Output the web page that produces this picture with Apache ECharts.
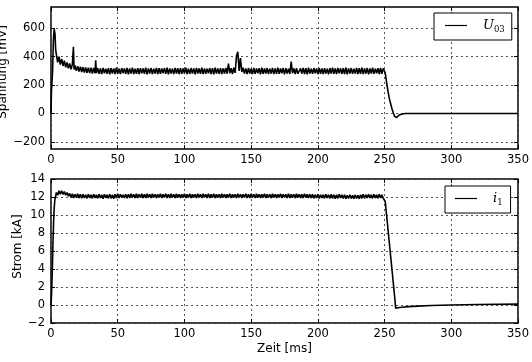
<!DOCTYPE html>
<html>
<head>
<meta charset="utf-8">
<script src="https://cdn.jsdelivr.net/npm/echarts@6/dist/echarts.min.js"></script>
</head>
<body style="margin: 0">
<div id="container" style="width: 532px; height: 362px"></div>
<script type="text/javascript">
// tick labels
var timeTicks = [0, 50, 100, 150, 200, 250, 300, 350];
var uTicks = [-200, 0, 200, 400, 600];
var iTicks = [-2, 0, 2, 4, 6, 8, 10, 12, 14];

// U03 [ms, mV]: switch-on transient
var uStart = [
    [0, 0], [0.3, 150], [0.7, 140], [1.2, 300], [1.8, 520], [2.4, 595], [3.0, 560], [3.5, 450],
    [4, 415], [5, 360], [6, 400], [7, 345], [8, 385], [9, 335], [10, 372], [11, 325], [12, 360],
    [13, 318], [14, 352], [15, 312], [16, 345], [16.8, 470], [17.3, 310], [18, 338], [19, 300],
    [20, 333], [21, 296], [22, 330], [23, 292], [24, 327], [25, 288], [26, 325], [27, 286],
    [28, 323], [29, 284], [30, 322], [31, 282], [32, 320], [33, 283], [33.5, 375], [34, 285],
    [35, 320]
];
// U03 noisy plateau, one sample per ms from 36 ms to 249 ms
var uNoiseStart = 36;
var uNoise = [
    280, 318, 277, 321, 283, 316, 279, 320, 276, 319,
    282, 317, 278, 322, 280, 315, 277, 320, 284, 318,
    279, 321, 276, 317, 281, 323, 278, 316, 280, 320,
    277, 319, 283, 317, 279, 322, 276, 318, 281, 320,
    278, 316, 282, 321, 277, 319, 280, 317, 284, 320,
    279, 322, 276, 318, 281, 316, 278, 321, 282, 319,
    277, 320, 280, 317, 283, 322, 278, 316, 279, 320,
    281, 318, 276, 321, 282, 317, 279, 323, 277, 318,
    280, 316, 283, 320, 278, 319, 276, 322, 281, 317,
    279, 320, 277, 318, 282, 321, 280, 352, 284, 319,
    278, 322, 286, 405, 435, 300, 390, 292, 322, 281,
    317, 278, 320, 282, 316, 277, 321, 280, 318, 283,
    319, 276, 322, 279, 317, 281, 320, 278, 316, 282,
    321, 277, 318, 280, 323, 279, 317, 283, 320, 276,
    319, 281, 316, 278, 365, 284, 318, 277, 320, 280,
    280, 317, 282, 321, 278, 319, 276, 322, 281, 316,
    279, 320, 283, 318, 277, 321, 280, 317, 278, 319,
    282, 316, 276, 320, 281, 322, 279, 318, 277, 321,
    283, 317, 280, 319, 278, 322, 276, 318, 282, 320,
    279, 316, 281, 321, 277, 319, 280, 323, 278, 317,
    282, 320, 276, 318, 281, 322, 279, 316, 283, 319,
    277, 321, 280, 318
];
// U03 switch-off
var uEnd = [
    [250.5, 285], [251.5, 220], [252.5, 160], [253.5, 110], [254.5, 70], [255.5, 35], [256.5, 5],
    [257.5, -20], [258.3, -32], [259, -28], [260, -18], [261, -10], [262, -5], [264, -2], [266, 0],
    [300, 0], [350, 0]
];

// i1 [ms, kA]
var iStart = [
    [0, 0], [0.5, 1.5], [1, 4], [1.5, 7], [2, 9.5], [2.5, 11], [3, 11.8], [3.5, 12.1],
    [4, 12.5], [5, 12.2], [6, 12.7], [7, 12.3], [8, 12.7], [9, 12.3], [10, 12.6], [11, 12.2],
    [12, 12.5], [13, 12.1]
];
var iNoiseStart = 14;
var iNoise = [
    12.4, 11.95, 12.35, 11.9, 12.3, 11.95, 12.35, 11.9, 12.3, 11.85,
    12.3, 11.9, 12.25, 11.85, 12.3, 11.9, 12.25, 11.85, 12.3, 11.9,
    12.25, 11.85, 12.3, 11.9, 12.25, 11.8, 12.3, 11.9, 12.25, 11.85,
    12.3, 11.85, 12.25, 11.8, 12.3, 11.9, 12.35, 11.9, 12.3, 11.95,
    12.25, 11.9, 12.3, 11.85, 12.3, 11.9, 12.35, 11.95, 12.3, 11.9,
    12.35, 11.9, 12.3, 11.95, 12.35, 11.9, 12.3, 11.9, 12.35, 11.95,
    12.3, 11.9, 12.35, 11.95, 12.3, 11.9, 12.3, 11.95, 12.35, 11.9,
    12.3, 11.95, 12.35, 11.9, 12.3, 11.9, 12.35, 11.95, 12.3, 11.9,
    12.35, 11.95, 12.3, 11.9, 12.3, 11.95, 12.35, 11.9, 12.3, 11.95,
    12.35, 11.9, 12.3, 11.95, 12.3, 11.9, 12.35, 11.95, 12.3, 11.9,
    12.35, 11.95, 12.3, 11.9, 12.35, 11.9, 12.3, 11.95, 12.35, 11.9,
    12.3, 11.95, 12.3, 11.9, 12.35, 11.95, 12.3, 11.9, 12.3, 11.95,
    12.35, 11.9, 12.3, 11.95, 12.3, 11.9, 12.35, 11.95, 12.3, 11.9,
    12.3, 11.95, 12.35, 11.9, 12.3, 11.9, 12.35, 11.95, 12.3, 11.9,
    12.35, 11.95, 12.3, 11.9, 12.3, 11.95, 12.35, 11.9, 12.3, 11.95,
    12.3, 11.9, 12.35, 11.95, 12.3, 11.9, 12.3, 11.95, 12.35, 11.9,
    12.3, 11.95, 12.3, 11.9, 12.35, 11.9, 12.3, 11.95, 12.3, 11.9,
    12.35, 11.95, 12.3, 11.9, 12.3, 11.9, 12.35, 11.95, 12.3, 11.9,
    12.3, 11.9, 12.3, 11.85, 12.25, 11.9, 12.3, 11.85, 12.25, 11.9,
    12.25, 11.85, 12.3, 11.9, 12.25, 11.85, 12.3, 11.85, 12.25, 11.8,
    12.25, 11.85, 12.3, 11.9, 12.25, 11.85, 12.25, 11.8, 12.2, 11.85,
    12.25, 11.85, 12.2, 11.8, 12.25, 11.85, 12.2, 11.8, 12.25, 11.85,
    12.3, 11.85, 12.25, 11.9, 12.3, 11.9, 12.25, 11.85, 12.3, 11.9,
    12.25, 11.85, 12.3, 11.9, 12.25, 11.85
];
var iEnd = [
    [250.5, 11.5], [251.5, 10], [252.5, 8.5], [253.5, 7], [254.5, 5.5], [255.5, 4], [256.5, 2.5],
    [257.5, 1], [258.3, -0.35], [260, -0.3], [263, -0.25], [268, -0.18], [275, -0.12], [285, -0.06],
    [300, 0], [320, 0.05], [350, 0.1]
];

function joinSeries(start, noiseStart, noise, end) {
    var pts = start.slice();
    noise.forEach(function (v, k) { pts.push([noiseStart + k, v]); });
    return pts.concat(end);
}
var u03 = joinSeries(uStart, uNoiseStart, uNoise, uEnd);
var i1 = joinSeries(iStart, iNoiseStart, iNoise, iEnd);

var font = 'DejaVu Sans';
var minus = function (v) { return String(v).replace('-', '\u2212'); };
var gridLine = { color: '#555', type: [2, 3], width: 1 };

function xAxis(gridIndex, pos, labels) {
    return {
        type: 'value', gridIndex: gridIndex, position: pos,
        min: timeTicks[0], max: timeTicks[timeTicks.length - 1], interval: 50,
        axisLine: { show: false, onZero: false },
        axisTick: { show: true, inside: true, length: 4, lineStyle: { color: '#000' } },
        axisLabel: { show: labels, margin: 5, color: '#000', fontFamily: font, fontSize: 11.5 },
        splitLine: { show: labels, lineStyle: gridLine }
    };
}

function yAxis(gridIndex, pos, labels, range) {
    var a = {
        type: 'value', gridIndex: gridIndex, position: pos,
        min: range.min, max: range.max,
        axisLine: { show: false, onZero: false },
        axisTick: { show: true, inside: true, length: 4, lineStyle: { color: '#000' } },
        axisLabel: { show: labels, margin: 6, color: '#000', fontFamily: font, fontSize: 11.5, formatter: minus },
        splitLine: { show: labels, lineStyle: gridLine }
    };
    if (range.interval) a.interval = range.interval;
    if (range.ticks) {
        a.axisTick.customValues = range.ticks;
        a.axisLabel.customValues = range.ticks;
    }
    return a;
}

var uRange = { min: -250, max: 750, ticks: uTicks };
var iRange = { min: iTicks[0], max: iTicks[iTicks.length - 1], interval: 2 };

var legendText = {
    color: '#000',
    rich: {
        it: { fontFamily: 'DejaVu Serif', fontStyle: 'italic', fontSize: 13, padding: [0, 0, 0, 11] },
        sub: { fontFamily: 'DejaVu Serif', fontSize: 8.5, padding: [8, 0, 0, 0] }
    }
};

var myChart = echarts.init(document.getElementById('container'));
var option = {
    animation: false,
    color: ['#000'],
    grid: [
        { left: 51, top: 7, right: 14, height: 142, show: true, borderColor: '#000', borderWidth: 1.5,
          outerBoundsMode: 'none', containLabel: false },
        { left: 51, top: 179, right: 14, height: 144, show: true, borderColor: '#000', borderWidth: 1.5,
          outerBoundsMode: 'none', containLabel: false }
    ],
    xAxis: [
        xAxis(0, 'bottom', true),
        Object.assign(xAxis(1, 'bottom', true), {
            name: 'Zeit [ms]', nameLocation: 'middle', nameGap: 20, nameMoveOverlap: false,
            nameTextStyle: { color: '#000', fontFamily: font, fontSize: 12 }
        }),
        xAxis(0, 'top', false),
        xAxis(1, 'top', false)
    ],
    yAxis: [
        Object.assign(yAxis(0, 'left', true, uRange), {
            name: 'Spannung [mV]', nameLocation: 'middle', nameGap: 42, nameMoveOverlap: false,
            nameTextStyle: { color: '#000', fontFamily: font, fontSize: 12, padding: [0, 0, 0, 12] }
        }),
        Object.assign(yAxis(1, 'left', true, iRange), {
            name: 'Strom [kA]', nameLocation: 'middle', nameGap: 27, nameMoveOverlap: false,
            nameTextStyle: { color: '#000', fontFamily: font, fontSize: 12, padding: [0, 0, 0, 9] }
        }),
        yAxis(0, 'right', false, uRange),
        yAxis(1, 'right', false, iRange)
    ],
    legend: [
        {
            data: ['U03'], left: 434, top: 13, padding: [6, 7, 6, 11],
            itemWidth: 22, itemHeight: 1.2, icon: 'rect',
            borderColor: '#000', borderWidth: 1, backgroundColor: '#fff',
            formatter: function () { return '{it|U}{sub|03}'; },
            textStyle: legendText
        },
        {
            data: ['i1'], left: 445, top: 186, padding: [6, 8, 6, 10],
            itemWidth: 22, itemHeight: 1.2, icon: 'rect',
            borderColor: '#000', borderWidth: 1, backgroundColor: '#fff',
            formatter: function () { return '{it|i}{sub|1}'; },
            textStyle: legendText
        }
    ],
    series: [
        {
            name: 'U03', type: 'line', xAxisIndex: 0, yAxisIndex: 0, data: u03,
            symbol: 'none', lineStyle: { color: '#000', width: 1.6 }
        },
        {
            name: 'i1', type: 'line', xAxisIndex: 1, yAxisIndex: 1, data: i1,
            symbol: 'none', lineStyle: { color: '#000', width: 1.6 }
        }
    ]
};
myChart.setOption(option);
</script>
</body>
</html>
